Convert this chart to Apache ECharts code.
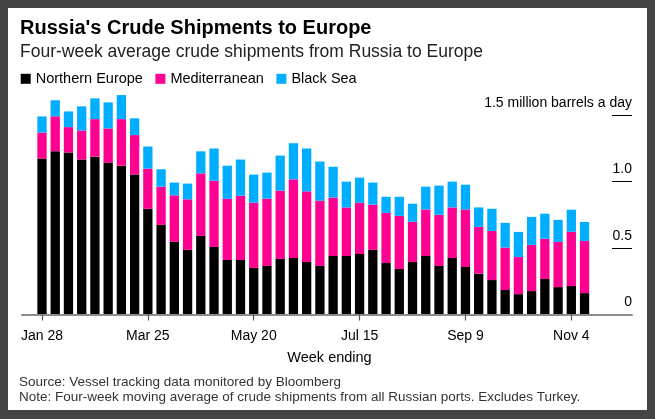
<!DOCTYPE html>
<html>
<head>
<meta charset="utf-8">
<script src="https://cdn.jsdelivr.net/npm/echarts@6/dist/echarts.min.js"></script>
<style>
html,body{margin:0;padding:0;background:#444;width:655px;height:419px;overflow:hidden;}
#chart{position:absolute;left:8px;top:8px;width:639px;height:402px;background:#fff;}
</style>
</head>
<body>
<div id="chart"></div>
<script>
const weeks = ['Jan 28','Feb 4','Feb 11','Feb 18','Feb 25','Mar 4','Mar 11','Mar 18','Mar 25','Apr 1','Apr 8','Apr 15','Apr 22','Apr 29','May 6','May 13','May 20','May 27','Jun 3','Jun 10','Jun 17','Jun 24','Jul 1','Jul 8','Jul 15','Jul 22','Jul 29','Aug 5','Aug 12','Aug 19','Aug 26','Sep 2','Sep 9','Sep 16','Sep 23','Sep 30','Oct 7','Oct 14','Oct 21','Oct 28','Nov 4','Nov 11'];
const labelWeeks = [0, 8, 16, 24, 32, 40];
const northernEurope = [1.172,1.228,1.218,1.165,1.187,1.142,1.119,1.052,0.795,0.674,0.546,0.486,0.591,0.508,0.410,0.410,0.350,0.365,0.418,0.425,0.395,0.365,0.440,0.440,0.455,0.486,0.387,0.342,0.395,0.440,0.365,0.425,0.357,0.307,0.259,0.184,0.153,0.176,0.267,0.206,0.214,0.161];
const mediterranean = [0.196,0.262,0.191,0.219,0.282,0.257,0.350,0.297,0.302,0.287,0.350,0.380,0.470,0.498,0.460,0.483,0.491,0.506,0.513,0.591,0.531,0.491,0.440,0.365,0.385,0.340,0.377,0.400,0.302,0.350,0.385,0.380,0.433,0.352,0.370,0.319,0.279,0.347,0.302,0.340,0.408,0.392];
const blackSea = [0.121,0.121,0.118,0.181,0.156,0.196,0.181,0.126,0.166,0.131,0.096,0.118,0.166,0.242,0.249,0.272,0.211,0.196,0.264,0.272,0.322,0.294,0.231,0.194,0.189,0.166,0.121,0.143,0.136,0.171,0.219,0.194,0.186,0.146,0.166,0.186,0.189,0.211,0.189,0.166,0.166,0.143];
const yTicks = [0, 0.5, 1, 1.5];
const yLabels = ['0', '0.5', '1.0', '1.5 million barrels a day'];

const FONT = "'Liberation Sans', Arial, Helvetica, sans-serif";
const Y_MAX = 1.7;
const W = 639;
// layout
const BAND = 13.233;           // px per week
const AXIS_LEFT = 14, AXIS_RIGHT = 15;   // full baseline grid
const BARS_LEFT = 27.38;                 // left edge of first band
const barsRight = W - (BARS_LEFT + BAND * weeks.length);
const axisMin = -(BARS_LEFT - AXIS_LEFT) / BAND - 0.5;
const axisMax = axisMin + (W - AXIS_LEFT - AXIS_RIGHT) / BAND;

const chart = echarts.init(document.getElementById('chart'));

chart.setOption({
  animation: false,
  backgroundColor: '#fff',
  textStyle: { fontFamily: FONT },
  graphic: [
    { type: 'text', style: { x: 12, y: 20, text: "Russia's Crude Shipments to Europe", font: 'bold 20px ' + FONT, fill: '#000', align: 'left', verticalAlign: 'middle' } },
    { type: 'text', style: { x: 12, y: 44.3, text: 'Four-week average crude shipments from Russia to Europe', font: '17.5px ' + FONT, fill: '#222', align: 'left', verticalAlign: 'middle' } },
    { type: 'text', style: { x: 321.5, y: 350, text: 'Week ending', font: '14.5px ' + FONT, fill: '#000', align: 'center', verticalAlign: 'middle' } },
    { type: 'text', style: { x: 11, y: 374.4, text: 'Source: Vessel tracking data monitored by Bloomberg', font: '13.5px ' + FONT, fill: '#333', align: 'left', verticalAlign: 'middle' } },
    { type: 'text', style: { x: 11, y: 389.6, text: 'Note: Four-week moving average of crude shipments from all Russian ports. Excludes Turkey.', font: '13.5px ' + FONT, fill: '#333', align: 'left', verticalAlign: 'middle' } }
  ],
  legend: {
    left: 12.7, top: 63.3, padding: 0,
    icon: 'rect', itemWidth: 10, itemHeight: 10, itemGap: 12.5,
    textStyle: { fontSize: 14.5, color: '#000', fontFamily: FONT },
    data: ['Northern Europe', 'Mediterranean', 'Black Sea']
  },
  grid: [
    { left: BARS_LEFT, right: barsRight, top: 80.4, bottom: 95.5, containLabel: false },
    { left: AXIS_LEFT, right: AXIS_RIGHT, top: 80.4, bottom: 95.5, containLabel: false }
  ],
  xAxis: [
    {
      type: 'category', gridIndex: 0, data: weeks,
      axisLine: { show: false },
      axisTick: { show: false },
      axisLabel: { show: false }
    },
    {
      type: 'value', gridIndex: 1, min: axisMin, max: axisMax, z: 10,
      position: 'bottom',
      splitLine: { show: false },
      axisLine: { show: true, onZero: false, lineStyle: { color: '#8c8c8c', width: 2 } },
      axisTick: { show: true, inside: true, customValues: labelWeeks, length: -6, lineStyle: { color: '#555', width: 1.2 } },
      axisLabel: {
        show: true, customValues: labelWeeks,
        formatter: v => weeks[Math.round(v)] || '',
        fontSize: 14, color: '#000', margin: 15, fontFamily: FONT
      }
    }
  ],
  yAxis: [
    {
      type: 'value', gridIndex: 0, min: 0, max: Y_MAX,
      show: false
    },
    {
      type: 'value', gridIndex: 1, position: 'right', min: 0, max: Y_MAX,
      splitLine: { show: false },
      axisLine: { show: false, onZero: false },
      axisTick: { show: true, inside: true, length: 20, customValues: [0.5, 1, 1.5], lineStyle: { color: '#000', width: 1 } },
      axisLabel: {
        inside: true, customValues: yTicks,
        formatter: v => yLabels[yTicks.indexOf(v)] || '',
        fontSize: 14, color: '#000', margin: 0, verticalAlign: 'bottom', padding: [0, 0, 5, 0], fontFamily: FONT
      }
    }
  ],
  series: [
    { name: 'Northern Europe', type: 'bar', xAxisIndex: 0, yAxisIndex: 0, stack: 'total', barWidth: 9.3, itemStyle: { color: '#000000' }, data: northernEurope },
    { name: 'Mediterranean', type: 'bar', xAxisIndex: 0, yAxisIndex: 0, stack: 'total', barWidth: 9.3, itemStyle: { color: '#ff0090' }, data: mediterranean },
    { name: 'Black Sea', type: 'bar', xAxisIndex: 0, yAxisIndex: 0, stack: 'total', barWidth: 9.3, itemStyle: { color: '#00aeff' }, data: blackSea }
  ]
});
</script>
</body>
</html>
